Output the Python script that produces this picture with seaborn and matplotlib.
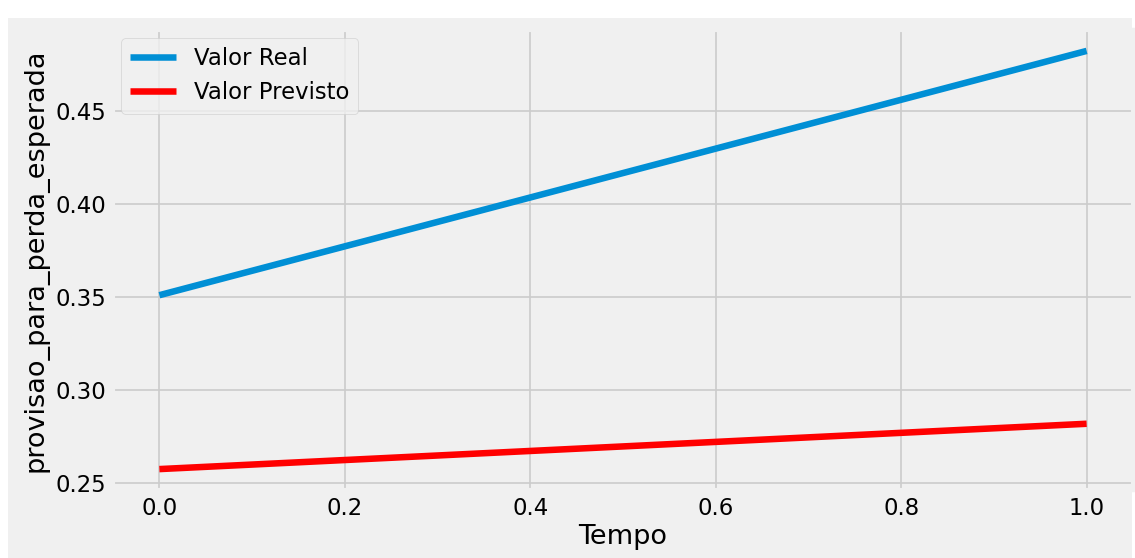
import numpy as np
import pandas as pd
import seaborn as sns
import matplotlib.pyplot as plt
from matplotlib.patches import Rectangle

# ── data ───────────────────────────────────────────────────────────────────
tempo = [0.0, 1.0]
valor_real = [0.3511, 0.4826]
valor_previsto = [0.2575, 0.2819]
series_order = ["Valor Real", "Valor Previsto"]
series_colors = {"Valor Real": "#008fd5", "Valor Previsto": "red"}

df = pd.DataFrame({
    "Tempo": tempo * 2,
    "valor": valor_real + valor_previsto,
    "serie": ["Valor Real"] * len(tempo) + ["Valor Previsto"] * len(tempo),
})

plt.style.use("fivethirtyeight")
plt.rcParams["grid.linewidth"] = 1.2
W, H = 1135, 558
fig = plt.figure(figsize=(W / 100, H / 100), dpi=100, facecolor="white")

# grey canvas inset in white, like the screenshot
fig.patches.append(Rectangle((8 / W, 0), (1132 - 8) / W, (H - 18) / H,
                             transform=fig.transFigure, facecolor="#f0f0f0",
                             edgecolor="none", zorder=-1))

ax = fig.add_axes([113 / W, 1 - 490 / H, (1133 - 113) / W, (490 - 30) / H])
sns.lineplot(data=df, x="Tempo", y="valor", hue="serie", hue_order=series_order,
             palette=series_colors, linewidth=4.7, ax=ax)

ax.set_xlabel("Tempo", fontsize=19.5, labelpad=3)
ax.set_ylabel("provisao_para_perda_esperada", fontsize=19.5, labelpad=5)
ax.tick_params(labelsize=16.4, pad=5)
ax.set_yticks([0.25, 0.30, 0.35, 0.40, 0.45])
ax.legend(title=None, loc="upper left", fontsize=16.4, borderaxespad=0.35)

fig.savefig("out.png", dpi=100, facecolor="white")
